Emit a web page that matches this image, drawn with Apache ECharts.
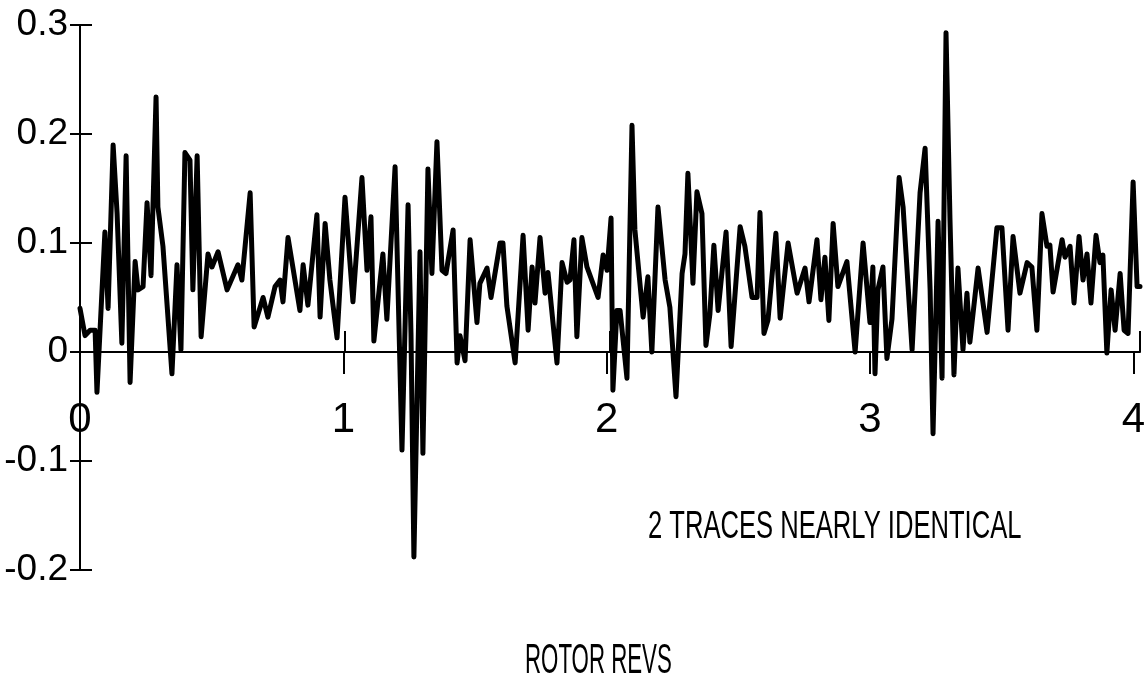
<!DOCTYPE html>
<html>
<head>
<meta charset="utf-8">
<script src="https://cdn.jsdelivr.net/npm/echarts@6/dist/echarts.min.js"></script>
<style>
html,body{margin:0;padding:0;background:#fff;}
#chart{width:1148px;height:679px;}
</style>
</head>
<body>
<div id="chart"></div>
<script>
// Rotor revolutions (x) and trace values (y)
var revs = [
0,0.019,0.038,0.057,0.064,0.094,0.106,0.125,0.140,0.158,0.174,0.189,0.208,0.219,0.238,0.253,0.268,0.287,0.294,0.313,
0.347,0.366,0.381,0.396,0.415,0.426,0.442,0.457,0.483,0.498,0.521,0.555,0.596,0.611,0.642,0.657,0.691,0.709,0.736,0.755,
0.766,0.785,0.830,0.842,0.860,0.894,0.906,0.925,0.943,0.970,1.000,1.030,1.064,1.083,1.098,1.109,1.143,1.158,1.189,1.215,
1.238,1.249,1.260,1.283,1.294,1.313,1.328,1.347,1.366,1.381,1.408,1.423,1.434,1.453,1.472,1.498,1.509,1.536,1.551,1.585,
1.596,1.611,1.642,1.672,1.691,1.706,1.717,1.736,1.755,1.766,1.800,1.819,1.838,1.849,1.864,1.875,1.894,1.913,1.955,1.974,
1.989,2.004,2.011,2.026,2.038,2.064,2.083,2.094,2.125,2.143,2.158,2.181,2.208,2.226,2.249,2.272,2.283,2.294,2.313,2.328,
2.347,2.362,2.377,2.392,2.408,2.438,2.457,2.491,2.509,2.536,2.555,2.566,2.581,2.596,2.626,2.642,2.672,2.706,2.736,2.751,
2.781,2.796,2.811,2.826,2.842,2.860,2.894,2.925,2.955,2.981,2.992,3.000,3.011,3.030,3.045,3.064,3.091,3.106,3.140,3.170,
3.189,3.208,3.219,3.238,3.253,3.268,3.283,3.298,3.313,3.332,3.347,3.358,3.389,3.423,3.460,3.479,3.502,3.521,3.547,3.574,
3.592,3.611,3.630,3.649,3.660,3.672,3.706,3.717,3.736,3.751,3.770,3.785,3.800,3.815,3.834,3.849,3.860,3.875,3.891,3.906,
3.925,3.940,3.955,3.974,3.989,4.0
];
var trace = [
0.040,0.015,0.020,0.020,-0.037,0.110,0.040,0.190,0.127,0.008,0.180,-0.028,0.083,0.057,0.060,0.137,0.070,0.234,0.133,0.097,
-0.020,0.080,0.002,0.183,0.176,0.057,0.180,0.014,0.090,0.078,0.092,0.057,0.080,0.066,0.146,0.023,0.050,0.032,0.060,0.066,
0.046,0.105,0.038,0.080,0.043,0.126,0.032,0.118,0.066,0.013,0.142,0.046,0.160,0.075,0.124,0.010,0.090,0.030,0.170,-0.090,
0.135,0.017,-0.188,0.092,-0.093,0.168,0.072,0.193,0.075,0.072,0.112,-0.010,0.015,-0.008,0.103,0.027,0.063,0.077,0.050,0.100,
0.100,0.042,-0.010,0.107,0.020,0.078,0.045,0.105,0.054,0.073,-0.010,0.082,0.064,0.066,0.103,0.014,0.105,0.078,0.050,0.089,
0.075,0.123,-0.035,0.038,0.038,-0.024,0.208,0.112,0.032,0.069,0.000,0.133,0.066,0.041,-0.041,0.072,0.090,0.164,0.063,0.147,
0.127,0.006,0.035,0.098,0.038,0.110,0.005,0.115,0.097,0.050,0.050,0.128,0.017,0.029,0.109,0.031,0.100,0.054,0.077,0.046,
0.103,0.048,0.087,0.029,0.118,0.060,0.083,0.000,0.100,0.027,0.078,-0.020,0.057,0.078,-0.006,0.030,0.160,0.133,0.002,0.146,
0.187,0.057,-0.075,0.120,-0.024,0.293,0.121,-0.021,0.077,0.002,0.054,0.009,0.077,0.018,0.114,0.114,0.020,0.106,0.054,0.082,
0.078,0.020,0.127,0.097,0.098,0.055,0.103,0.087,0.097,0.045,0.106,0.066,0.090,0.045,0.107,0.082,0.089,-0.001,0.057,0.020,
0.072,0.020,0.017,0.156,0.060,0.060
];
var xTicks = [0, 1, 2, 3, 4];
var yTicks = [-0.2, -0.1, 0, 0.1, 0.2, 0.3];
var annotation = '2 TRACES NEARLY IDENTICAL';
var xTitle = 'ROTOR REVS';

var FONT = "'Liberation Sans', Arial, sans-serif";
var pts = revs.map(function (r, i) { return [r, trace[i]]; });

function yLabel(v) {
  var r = Math.round(v * 10) / 10;
  return r === 0 ? '0' : String(r);
}

var chart = echarts.init(document.getElementById('chart'), null, {renderer: 'canvas'});
chart.setOption({
  backgroundColor: '#ffffff',
  animation: false,
  grid: [
    {left: 80, right: 8, top: 25, bottom: 109, containLabel: false},
    // helper grid whose bottom edge sits on the zero line, carries the x labels
    {left: 80, right: 8, top: 25, bottom: 327, containLabel: false}
  ],
  xAxis: [{
    gridIndex: 0, type: 'value', min: 0, max: 4, interval: 1,
    axisLine: {show: true, onZero: true, lineStyle: {color: '#000', width: 2}},
    axisTick: {show: true, inside: true, length: 21, lineStyle: {color: '#000', width: 2}},
    axisLabel: {show: false},
    splitLine: {show: false}
  }, {
    gridIndex: 1, type: 'value', min: 0, max: 4, interval: 1, position: 'bottom',
    axisLine: {show: false, onZero: false},
    axisTick: {show: true, inside: false, length: 22, lineStyle: {color: '#000', width: 2}},
    axisLabel: {show: true, margin: 47, color: '#000', fontFamily: FONT, fontSize: 42,
      formatter: function (v) { return xTicks.indexOf(v) >= 0 ? String(v) : ''; }},
    splitLine: {show: false}
  }],
  yAxis: [{
    gridIndex: 0, type: 'value', min: -0.2, max: 0.3, interval: 0.1,
    axisLine: {show: true, onZero: false, lineStyle: {color: '#000', width: 2}},
    axisTick: {show: true, inside: false, length: 10, lineStyle: {color: '#000', width: 2}},
    axisLabel: {show: true, margin: 12, color: '#000', fontFamily: FONT, fontSize: 37,
      formatter: yLabel},
    splitLine: {show: false}
  }, {
    gridIndex: 1, type: 'value', min: 0, max: 0.3, show: false
  }, {
    gridIndex: 0, type: 'value', min: -0.2, max: 0.3, interval: 0.1, position: 'left',
    axisLine: {show: false, onZero: false},
    axisTick: {show: true, inside: true, length: 12, lineStyle: {color: '#000', width: 2}},
    axisLabel: {show: false},
    splitLine: {show: false}
  }],
  graphic: [{
    type: 'text', x: 648, y: 527, scaleX: 0.656, scaleY: 1,
    style: {text: annotation, fill: '#000', font: '39px ' + FONT, textVerticalAlign: 'middle', textAlign: 'left'}
  }, {
    type: 'text', x: 525, y: 661, scaleX: 0.53, scaleY: 1,
    style: {text: xTitle, fill: '#000', font: '42px ' + FONT, textVerticalAlign: 'middle', textAlign: 'left'}
  }],
  series: [{
    type: 'line', xAxisIndex: 0, yAxisIndex: 0,
    data: pts, showSymbol: false, smooth: false,
    lineStyle: {color: '#000', width: 5, join: 'round', cap: 'round'},
    silent: true
  }]
});
</script>
</body>
</html>
